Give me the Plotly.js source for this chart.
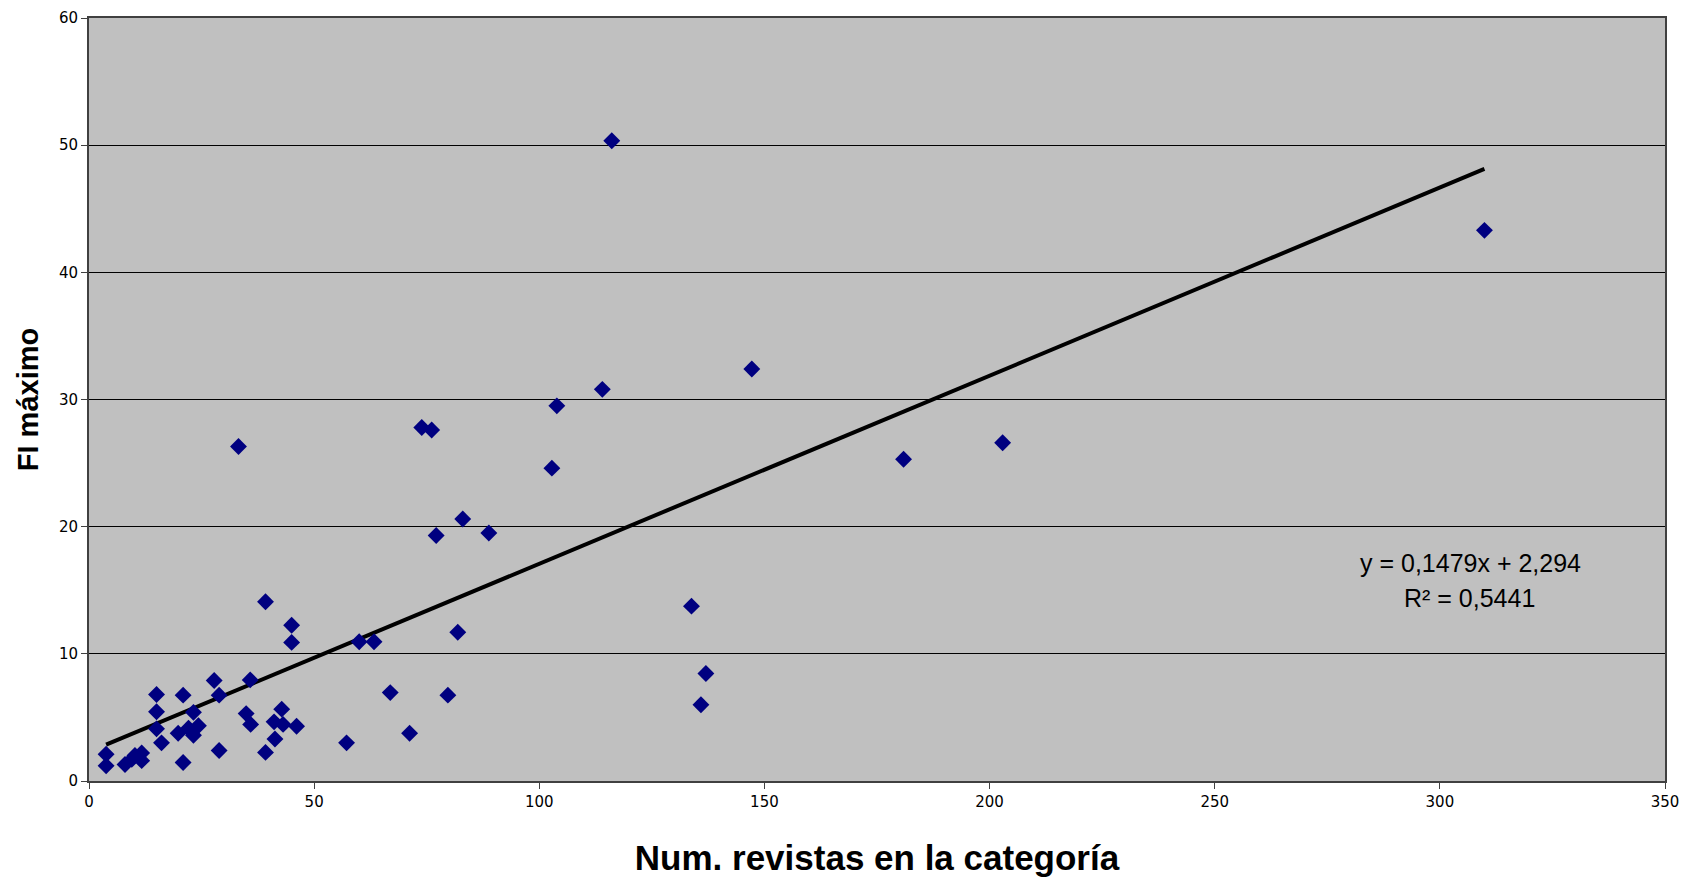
<!DOCTYPE html>
<html>
<head>
<meta charset="utf-8">
<script src="https://cdn.plot.ly/plotly-3.0.1.min.js"></script>
<style>
  html, body { margin: 0; padding: 0; background: #ffffff; }
  #chart { width: 1683px; height: 877px; }
</style>
</head>
<body>
<div id="chart"></div>
<script>
// Number of journals in each category
const numRevistas = [
  3.8, 3.8, 8.0, 9.5, 10.2, 11.7, 11.7, 15.0, 15.0, 15.0,
  16.1, 19.8, 20.9, 20.9, 22.1, 23.2, 23.2, 24.3, 27.8, 28.9,
  28.9, 33.2, 34.9, 35.8, 35.9, 39.2, 39.2, 41.1, 41.3, 42.8,
  43.1, 45.0, 45.0, 46.1, 57.2, 60.0, 63.3, 66.9, 71.2, 73.9,
  76.1, 77.1, 79.7, 81.9, 83.0, 88.8, 102.8, 103.9, 114.0, 116.1,
  133.8, 135.9, 137.0, 147.2, 180.9, 202.9, 309.9
];

// Maximum impact factor in each category
const fiMaximo = [
  2.1, 1.2, 1.3, 1.7, 2.0, 2.2, 1.6, 6.8, 5.45, 4.1,
  3.0, 3.75, 6.75, 1.45, 4.15, 5.4, 3.6, 4.35, 7.9, 6.75,
  2.4, 26.3, 5.3, 7.95, 4.45, 14.1, 2.25, 4.65, 3.3, 5.65,
  4.45, 12.25, 10.9, 4.3, 3.0, 10.95, 10.95, 6.95, 3.75, 27.8,
  27.6, 19.3, 6.75, 11.7, 20.6, 19.5, 24.6, 29.5, 30.8, 50.35,
  13.75, 6.0, 8.45, 32.4, 25.3, 26.6, 43.3
];

// Linear fit coefficients and goodness of fit
const slope = 0.1479;
const intercept = 2.294;
const r2 = 0.5441;

const xTicks = [0, 50, 100, 150, 200, 250, 300, 350];
const yTicks = [0, 10, 20, 30, 40, 50, 60];

const fmt = (v) => String(v).replace('.', ',');

// Trend line spans the observed range of categories
const xMin = Math.min(...numRevistas);
const xMax = Math.max(...numRevistas);
const trendX = [xMin, xMax];
const trendY = trendX.map(x => slope * x + intercept);

const points = {
  type: 'scatter',
  mode: 'markers',
  x: numRevistas,
  y: fiMaximo,
  marker: { symbol: 'diamond', size: 13, color: '#000080', line: { width: 0 } },
  hoverinfo: 'x+y',
  showlegend: false
};

const trend = {
  type: 'scatter',
  mode: 'lines',
  x: trendX,
  y: trendY,
  line: { color: '#000000', width: 4 },
  hoverinfo: 'skip',
  showlegend: false
};

const tickFont = { family: 'DejaVu Sans, Verdana, sans-serif', size: 15, color: '#000000' };
const eqFont = { family: 'Liberation Sans, Arial, sans-serif', size: 25, color: '#000000' };

const layout = {
  width: 1683,
  height: 877,
  margin: { l: 89, r: 18, t: 18, b: 96 },
  paper_bgcolor: '#ffffff',
  plot_bgcolor: '#c0c0c0',
  showlegend: false,
  xaxis: {
    range: [0, 350],
    tickvals: xTicks,
    ticktext: xTicks.map(String),
    ticks: 'outside',
    ticklen: 6,
    tickcolor: '#404040',
    tickfont: tickFont,
    showgrid: false,
    zeroline: false,
    showline: true,
    linecolor: '#404040',
    linewidth: 2,
    mirror: true,
    title: {
      text: 'Num. revistas en la categoría',
      font: { family: 'Liberation Sans, Arial, sans-serif', size: 35, color: '#000000', weight: 'bold' },
      standoff: 39
    }
  },
  yaxis: {
    range: [0, 60],
    tickvals: yTicks,
    ticktext: yTicks.map(String),
    ticks: 'outside',
    ticklen: 6,
    tickcolor: '#404040',
    tickfont: tickFont,
    showgrid: true,
    gridcolor: '#000000',
    gridwidth: 1,
    zeroline: false,
    showline: true,
    linecolor: '#404040',
    linewidth: 2,
    mirror: true,
    title: {
      text: 'FI máximo',
      font: { family: 'Liberation Sans, Arial, sans-serif', size: 29, color: '#000000', weight: 'bold' },
      standoff: 12
    }
  },
  annotations: [
    {
      x: 1470, y: 563, xref: 'paper', yref: 'paper',
      xanchor: 'center', yanchor: 'middle',
      text: 'y = ' + fmt(slope) + 'x + ' + fmt(intercept),
      showarrow: false,
      font: eqFont
    },
    {
      x: 1469, y: 598, xref: 'paper', yref: 'paper',
      xanchor: 'center', yanchor: 'middle',
      text: 'R² = ' + fmt(r2),
      showarrow: false,
      font: eqFont
    }
  ]
};

// Equation labels are placed in pixel terms, converted to paper fractions
const plotW = layout.width - layout.margin.l - layout.margin.r;
const plotH = layout.height - layout.margin.t - layout.margin.b;
layout.annotations.forEach(a => {
  a.x = (a.x - layout.margin.l) / plotW;
  a.y = 1 - (a.y - layout.margin.t) / plotH;
});

Plotly.newPlot('chart', [trend, points], layout, { displayModeBar: false, staticPlot: true });
</script>
</body>
</html>
